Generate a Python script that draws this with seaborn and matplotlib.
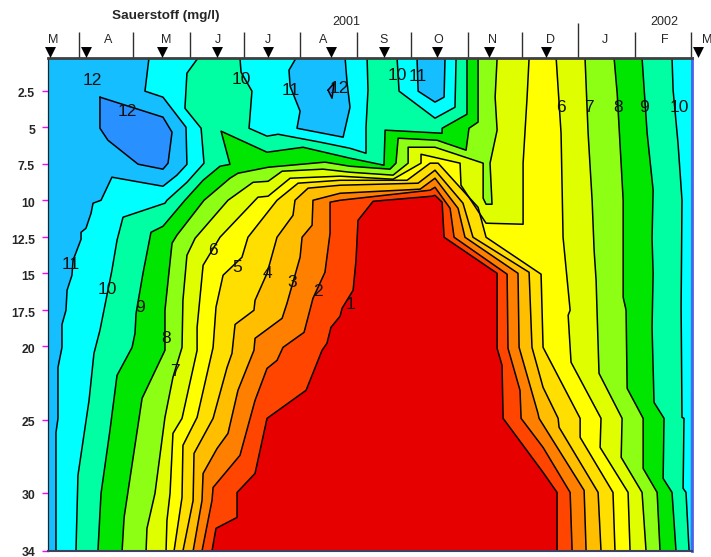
import matplotlib
matplotlib.use("Agg")
import matplotlib.pyplot as plt
import matplotlib.transforms as mtrans
import seaborn as sns

# x values: days since 15 March 2001; y values: depth in metres
TOP = 0.25
BOTTOM = 34

iso1_day = [90.3, 92.5, 104.1, 104.1, 114.0, 120.6, 142.1, 150.9, 153.6, 155.8, 160.8, 161.9, 168.0, 169.6, 170.7, 179.0, 211.5, 213.1, 217.0, 218.1, 247.3, 247.3, 250.0, 250.6, 272.6, 280.3, 280.3]
iso1_depth = [34, 32.45, 31.70, 29.99, 28.69, 24.92, 23.00, 20.26, 19.78, 18.69, 17.93, 17.39, 16.15, 14.10, 11.36, 10.06, 9.71, 9.65, 10.12, 12.52, 14.99, 20.13, 21.29, 24.92, 28.62, 29.99, 34]

iso2_day = [84.8, 90.3, 90.9, 105.7, 114.0, 120.6, 126.1, 129.4, 141.0, 145.9, 152.5, 155.3, 155.3, 160.8, 210.4, 213.1, 221.4, 223.6, 252.8, 253.3, 259.9, 260.5, 272.6, 287.5, 288.6]
iso2_depth = [34, 30.54, 29.65, 27.45, 23.69, 21.50, 20.95, 20.06, 19.03, 16.70, 14.92, 12.25, 10.12, 9.99, 9.30, 9.10, 10.54, 12.52, 15.05, 20.13, 23.00, 24.92, 26.91, 29.99, 34]

iso3_day = [79.9, 84.8, 85.4, 93.1, 99.1, 104.6, 113.4, 114.0, 128.9, 131.6, 138.8, 139.9, 145.4, 145.9, 160.8, 204.9, 213.1, 225.8, 229.6, 258.8, 259.4, 269.8, 270.4, 295.2, 296.3]
iso3_depth = [34, 30.54, 28.69, 26.98, 25.95, 23.00, 20.26, 19.44, 18.07, 17.04, 13.89, 12.52, 11.70, 9.99, 9.51, 9.23, 8.48, 10.54, 12.52, 14.99, 20.06, 24.58, 24.92, 29.85, 34]

iso4_day = [74.3, 79.9, 80.4, 90.9, 98.6, 101.3, 103.0, 113.4, 114.0, 120.6, 126.1, 134.9, 136.0, 143.2, 160.8, 203.8, 213.1, 228.5, 234.0, 264.9, 266.5, 272.6, 280.9, 281.4, 302.9, 304.5]
iso4_depth = [34, 30.54, 27.32, 24.92, 21.43, 20.47, 18.49, 17.52, 16.84, 14.99, 12.52, 11.02, 9.99, 9.16, 8.96, 8.82, 7.93, 10.19, 12.52, 14.92, 20.06, 22.80, 24.92, 25.53, 29.99, 34]

iso5_day = [69.4, 73.8, 74.3, 82.1, 90.9, 92.5, 96.4, 106.8, 110.1, 126.1, 137.7, 160.8, 197.7, 210.4, 214.8, 236.8, 241.2, 271.5, 272.6, 293.0, 293.0, 311.1, 312.2]
iso5_depth = [34, 30.33, 26.77, 24.85, 20.06, 17.31, 15.12, 13.89, 12.52, 9.99, 8.82, 8.62, 8.62, 7.45, 7.45, 10.47, 12.52, 15.05, 20.06, 24.92, 26.22, 29.99, 34]

iso6_day = [65.0, 65.5, 67.2, 68.8, 73.8, 82.1, 82.1, 85.4, 94.7, 115.6, 121.2, 133.3, 160.8, 190.0, 197.7, 205.4, 205.4, 226.9, 227.4, 241.2, 261.6, 261.6, 263.8, 264.9,
            279.8, 282.5, 283.6, 287.5, 286.4, 288.0, 304.5, 304.0, 319.4, 320.5]
iso6_depth = [34, 31.91, 30.06, 25.95, 24.92, 20.26, 18.69, 14.44, 12.52, 9.78, 9.71, 8.48, 8.34, 8.55, 8.00, 7.45, 6.84, 7.45, 8.96, 11.56, 11.63, 7.45, 2.93, TOP,
              TOP, 5.40, 12.52, 17.52, 17.86, 21.08, 24.92, 26.91, 29.99, 34]

iso7_day = [54.0, 54.5, 58.9, 64.4, 68.8, 73.8, 74.3, 76.5, 81.0, 99.1, 112.9, 121.2, 128.9, 151.4, 166.3, 190.0, 198.3, 198.3, 213.1, 239.6, 239.6, 241.2, 244.5, 243.4, 247.3, 246.2, 247.3,
            295.7, 297.4, 299.6, 300.7, 301.8, 302.3, 303.4, 316.1, 315.6, 327.1, 329.3]
iso7_depth = [34, 32.45, 30.06, 24.85, 22.11, 20.06, 16.84, 13.76, 12.59, 9.99, 8.76, 8.69, 8.00, 7.86, 8.07, 8.27, 7.45, 6.36, 6.36, 7.45, 9.85, 10.26, 10.26, 7.45, 5.19, 2.93, TOP,
              TOP, 5.40, 9.99, 13.41, 15.47, 17.52, 21.84, 24.92, 27.59, 29.99, 34]

iso8_day = [40.8, 41.9, 51.8, 64.4, 64.4, 68.3, 71.0, 85.9, 100.2, 104.6, 121.2, 152.5, 166.3, 188.3, 191.6, 192.8, 214.2, 230.2, 231.8, 236.8, 236.8,
            311.7, 313.4, 316.7, 316.7, 318.3, 318.9, 327.7, 327.7, 335.4, 337.0]
iso8_depth = [34, 31.70, 23.55, 20.26, 17.52, 12.93, 12.38, 9.99, 8.48, 8.14, 7.73, 7.38, 7.66, 7.86, 7.45, 5.74, 5.88, 6.56, 5.06, 4.64, TOP,
              TOP, 2.66, 9.99, 16.63, 17.52, 22.87, 24.92, 28.35, 29.99, 34]

iso9_day = [27.5, 29.2, 34.1, 38.0, 46.3, 47.9, 48.5, 52.3, 56.7, 63.3, 75.4, 85.4, 94.7, 100.2, 95.3, 120.6, 140.4, 166.3, 185.0, 185.6, 217.0, 217.0, 230.7, 230.7,
            327.1, 329.9, 333.2, 332.6, 333.2, 332.6, 333.7, 339.2, 338.7, 343.6, 345.8]
iso9_depth = [34, 30.06, 25.75, 21.98, 20.06, 19.10, 17.73, 14.99, 12.18, 11.77, 9.99, 8.62, 7.66, 7.53, 5.26, 6.70, 6.36, 7.11, 7.59, 5.19, 5.40, 5.06, 4.10, TOP,
              TOP, 5.40, 9.30, 12.59, 14.99, 18.69, 23.83, 24.92, 29.03, 29.99, 34]

iso10a_day = [15.4, 16.5, 22.6, 25.3, 28.6, 31.9, 35.2, 38.0, 41.3, 64.4, 65.5, 76.5, 85.9, 84.3, 75.4, 76.5, 82.6]
iso10a_depth = [34, 28.82, 23.69, 20.47, 18.89, 16.84, 14.78, 12.73, 11.15, 10.19, 9.99, 8.76, 7.45, 5.06, 3.69, 1.29, TOP]
iso10b_day = [105.7, 106.3, 112.3, 110.7, 120.6, 126.7, 149.8, 166.3, 175.1, 175.1, 176.2, 175.7]
iso10b_depth = [TOP, 1.22, 2.52, 5.06, 5.60, 5.47, 6.01, 6.43, 6.77, 4.99, 2.45, TOP]
iso10c_day = [192.2, 193.3, 213.1, 224.1, 224.7]
iso10c_depth = [TOP, 2.52, 4.37, 3.62, TOP]
iso10d_day = [343.6, 344.2, 346.9, 349.1, 348.6, 349.1, 350.2, 349.7, 351.3, 353.0]
iso10d_depth = [TOP, 2.45, 6.08, 9.99, 17.31, 24.85, 24.92, 29.71, 29.99, 34]

iso11_day = [4.4, 4.4, 5.5, 5.5, 7.7, 7.7, 9.9, 10.5, 13.2, 13.8, 18.2, 18.2, 20.9, 23.7, 24.8, 29.2, 35.2, 63.3, 71.0, 76.5, 76.0, 63.3, 53.4, 55.6]
iso11_depth = [34, 25.88, 24.92, 21.43, 20.06, 18.49, 17.52, 16.15, 15.12, 14.10, 12.66, 12.18, 11.91, 10.88, 10.19, 9.99, 8.41, 9.03, 8.27, 7.53, 4.99, 2.93, 2.52, TOP]
iso11_right_day = [354.1, 353.6]
iso11_right_depth = [TOP, 34]

high1_day = [136.6, 132.7, 133.3, 138.8, 137.1, 162.5, 166.3, 164.7, 163.6]
high1_depth = [TOP, 1.08, 2.18, 3.89, 5.06, 5.67, 3.62, 1.97, TOP]
high2_day = [203.2, 203.8, 213.1, 218.1, 218.6]
high2_depth = [TOP, 2.52, 3.27, 2.93, TOP]
iso12a_day = [28.6, 63.3, 68.3, 66.1, 63.3, 49.6, 33.0, 28.6, 28.6]
iso12a_depth = [2.93, 4.30, 5.33, 7.45, 7.86, 7.52, 5.88, 5.06, 2.93]
iso12b_day = [154.2, 157.5, 156.4, 154.2]
iso12b_depth = [2.45, 1.97, 3.00, 2.45]

band_colors = {
    "below1": "#E60000", "1-2": "#FF4500", "2-3": "#FF8000", "3-4": "#FFBF00",
    "4-5": "#FFDF00", "5-6": "#FFFF00", "6-7": "#DFFF00", "7-8": "#8CFF14",
    "8-9": "#00E600", "9-10": "#00FFA2", "10-11": "#00FFFF", "11-12": "#14BEFF",
    "12-13": "#2891FF",
}

month_edges = [17, 47, 78, 108, 139, 170, 200, 231, 261, 292, 323, 354]
month_labels = ["M", "A", "M", "J", "J", "A", "S", "O", "N", "D", "J", "F", "M"]
month_centers = [2.8, 33, 65, 93.6, 121, 151.4, 185, 214.8, 244.5, 276.5, 306.7, 339.8, 362.9]
sample_days = [1, 21, 63, 93, 121, 156, 185, 214, 243, 274, 358]
depth_ticks = [2.5, 5, 7.5, 10, 12.5, 15, 17.5, 20, 25, 30, 34]
depth_labels = ["2.5", "5", "7.5", "10", "12.5", "15", "17.5", "20", "25", "30", "34"]
year_labels = ["2001", "2002"]
year_days = [164.1, 339.2]
title = "Sauerstoff (mg/l)"

inline_values = ["12", "12", "10", "11", "12", "10", "11", "6", "7", "8", "9", "10",
                 "11", "10", "9", "8", "7", "6", "5", "4", "3", "2", "1"]
inline_days = [24.2, 43.5, 106.3, 133.8, 160.2, 192.2, 203.8, 282.5, 297.9, 313.9, 328.2, 347.5,
               12.7, 32.5, 50.7, 65.0, 69.9, 90.9, 104.1, 120.6, 134.3, 148.7, 166.3]
inline_depths = [1.77, 3.89, 1.70, 2.45, 2.32, 1.42, 1.49, 3.62, 3.62, 3.62, 3.62, 3.62,
                 14.37, 16.08, 17.32, 19.44, 21.70, 13.41, 14.58, 14.99, 15.60, 16.22, 17.11]

sns.set_style("white")
plt.rcParams["font.family"] = ["Liberation Sans", "DejaVu Sans"]

fig = plt.figure(figsize=(7.11, 5.57), dpi=100)
ax = fig.add_axes([48 / 711, 6 / 557, 644 / 711, 493 / 557])
ax.set_facecolor(band_colors["11-12"])

# each band: the area with oxygen below a level, painted from high level to low
fills = [
    (iso11_day + iso11_right_day, iso11_depth + iso11_right_depth, "10-11"),
    (high1_day, high1_depth, "11-12"),
    (high2_day, high2_depth, "11-12"),
    (iso12a_day, iso12a_depth, "12-13"),
    (iso12b_day, iso12b_depth, "12-13"),
    (iso10a_day + iso10b_day + iso10c_day + iso10d_day,
     iso10a_depth + iso10b_depth + iso10c_depth + iso10d_depth, "9-10"),
    (iso9_day, iso9_depth, "8-9"),
    (iso8_day, iso8_depth, "7-8"),
    (iso7_day, iso7_depth, "6-7"),
    (iso6_day, iso6_depth, "5-6"),
    (iso5_day, iso5_depth, "4-5"),
    (iso4_day, iso4_depth, "3-4"),
    (iso3_day, iso3_depth, "2-3"),
    (iso2_day, iso2_depth, "1-2"),
    (iso1_day, iso1_depth, "below1"),
]
for days, depths, band in fills:
    ax.fill(days, depths, color=band_colors[band], lw=0, zorder=1)

# isolines; iso6..iso9 have a gap along the surface, so draw both arms
splits = {6: 24, 7: 27, 8: 21, 9: 24}
isolines = [
    (iso1_day, iso1_depth), (iso2_day, iso2_depth), (iso3_day, iso3_depth),
    (iso4_day, iso4_depth), (iso5_day, iso5_depth),
    (iso6_day[:splits[6]], iso6_depth[:splits[6]]), (iso6_day[splits[6]:], iso6_depth[splits[6]:]),
    (iso7_day[:splits[7]], iso7_depth[:splits[7]]), (iso7_day[splits[7]:], iso7_depth[splits[7]:]),
    (iso8_day[:splits[8]], iso8_depth[:splits[8]]), (iso8_day[splits[8]:], iso8_depth[splits[8]:]),
    (iso9_day[:splits[9]], iso9_depth[:splits[9]]), (iso9_day[splits[9]:], iso9_depth[splits[9]:]),
    (iso10a_day, iso10a_depth), (iso10b_day, iso10b_depth),
    (iso10c_day, iso10c_depth), (iso10d_day, iso10d_depth),
    (iso11_day, iso11_depth), (high1_day, high1_depth), (high2_day, high2_depth),
    (iso12a_day, iso12a_depth), (iso12b_day, iso12b_depth),
]
for days, depths in isolines:
    sns.lineplot(x=days, y=depths, sort=False, estimator=None, color="black",
                 lw=1.1, legend=False, ax=ax, zorder=3)

sns.scatterplot(x=sample_days, y=[-0.15] * len(sample_days), marker="v", s=62,
                color="black", linewidth=0, clip_on=False, legend=False, ax=ax, zorder=6)

for txt, d, z in zip(inline_values, inline_days, inline_depths):
    ax.text(d, z, txt, fontsize=12.5, ha="center", va="center", color="#111111", zorder=5)

for txt, d in zip(month_labels, month_centers):
    ax.text(d, -0.97, txt, fontsize=9, ha="center", va="center", clip_on=False)
for txt, d in zip(year_labels, year_days):
    ax.text(d, -2.24, txt, fontsize=9, ha="center", va="center", clip_on=False)
ax.text(65, -2.62, title, fontsize=9.7, fontweight="bold", ha="center", va="center", clip_on=False)

ax.set_xlim(0, 354.6)
ax.set_ylim(BOTTOM, TOP)
ax.set_xlabel("")
ax.set_ylabel("")

ax.set_xticks([e for e in month_edges if e != 292])
ax.set_xticks([292], minor=True)
ax.tick_params(axis="x", which="major", top=True, bottom=False, labelbottom=False,
               direction="out", length=18.7, width=1.0, color="#303030")
ax.tick_params(axis="x", which="minor", top=True, bottom=False, labelbottom=False,
               direction="out", length=25, width=1.0, color="#303030")
ax.set_yticks(depth_ticks)
ax.set_yticklabels(depth_labels, fontsize=8.8, fontweight="bold")
ax.tick_params(axis="y", left=True, direction="out", length=4.3, width=1.0, color="#FF00FF", pad=5)
labels = ax.get_yticklabels()
shift = mtrans.ScaledTranslation(0, -1.5 / 72, fig.dpi_scale_trans)
for lab in labels[:-1]:
    lab.set_transform(lab.get_transform() + shift)

ax.spines["top"].set_linewidth(2.0)
ax.spines["top"].set_color("#404040")
ax.spines["bottom"].set_linewidth(1.5)
ax.spines["bottom"].set_color("#404060")
ax.spines["left"].set_linewidth(0.9)
ax.spines["left"].set_color("#202020")
ax.spines["right"].set_linewidth(2.0)
ax.spines["right"].set_color("#5060E8")
for s in ax.spines.values():
    s.set_zorder(4)

fig.savefig("out.png", dpi=100, facecolor="white")
